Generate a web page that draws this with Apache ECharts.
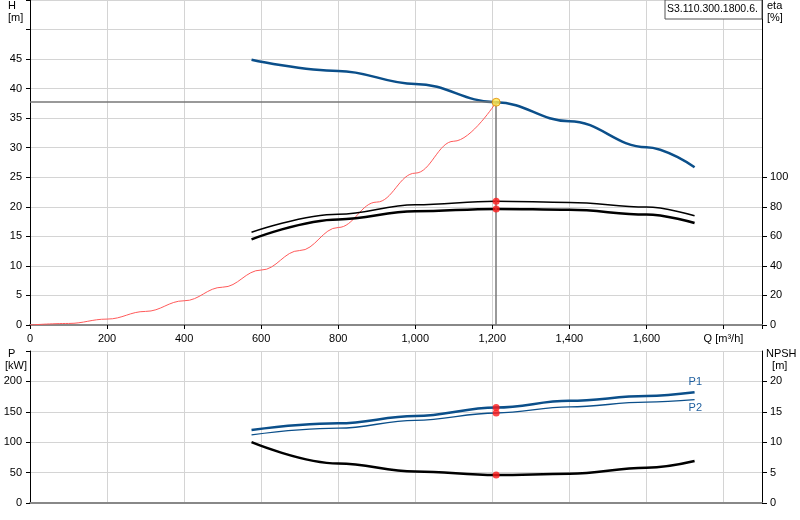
<!DOCTYPE html>
<html><head><meta charset="utf-8">
<script src="https://cdn.jsdelivr.net/npm/echarts@6/dist/echarts.min.js"></script>
<style>html,body{margin:0;padding:0;background:#fff}#c{width:800px;height:520px}</style>
</head><body><div id="c"></div>
<script>
const qHead = [575, 800, 1000, 1210, 1400, 1600, 1725];
const head = [44.9, 43.0, 40.8, 37.7, 34.5, 30.1, 26.7];
const qSys = [0, 100, 200, 300, 400, 500, 600, 700, 800, 900, 1000, 1100, 1210];
const sysHead = [0, 0.26, 1.0, 2.3, 4.1, 6.4, 9.3, 12.6, 16.5, 20.8, 25.7, 31.1, 37.7];
const qEta = [575, 800, 1000, 1210, 1400, 1600, 1725];
const eta1 = [62.8, 75.0, 81.4, 83.8, 83.0, 79.8, 74.0];
const eta2 = [58.0, 71.5, 77.0, 78.6, 78.0, 74.8, 69.0];
const qP = [575, 800, 1000, 1210, 1400, 1600, 1725];
const p1 = [120, 131, 143, 157, 168, 176, 182];
const p2 = [112, 123, 136, 148, 158, 166, 170];
const npsh = [10.0, 6.5, 5.2, 4.6, 4.8, 5.8, 6.9];
const duty = {q: 1210, h: 37.7, eta1: 83.8, eta2: 78.6, p1: 157, p2: 148, npsh: 4.6};
const title = 'S3.110.300.1800.6.';

const zip = (a, b) => a.map((v, i) => [v, b[i]]);
const font = 'Liberation Sans, Arial, sans-serif';
const lbl = {color: '#000', fontSize: 11, fontFamily: font};
const grid = {lineStyle: {color: '#d4d4d4'}};
const sm = {smooth: 0.4, smoothMonotone: 'x'};
const chart = echarts.init(document.getElementById('c'));
chart.setOption({
  animation: false,
  grid: [
    {left: 30, right: 38, top: 0, height: 325},
    {left: 30, right: 38, top: 351, height: 152}
  ],
  xAxis: [
    {gridIndex: 0, type: 'value', min: 0, max: 1900, interval: 200,
     axisLine: {lineStyle: {color: '#888', width: 2}}, axisTick: {show: true, length: 4, lineStyle: {color: '#000'}},
     axisLabel: Object.assign({}, lbl, {formatter: v => v === 1800 ? 'Q [m³/h]' : (v >= 1900 ? '' : v.toLocaleString('en-US'))}),
     splitLine: grid},
    {gridIndex: 1, type: 'value', min: 0, max: 1900, interval: 200,
     axisLine: {lineStyle: {color: '#888', width: 2}}, axisTick: {show: false},
     axisLabel: {show: false}, splitLine: grid}
  ],
  yAxis: [
    {gridIndex: 0, type: 'value', min: 0, max: 55, interval: 5,
     axisLine: {show: true, lineStyle: {color: '#000'}}, axisTick: {show: true, length: 4, lineStyle: {color: '#000'}},
     axisLabel: Object.assign({}, lbl, {formatter: v => v >= 50 ? '' : v}), splitLine: grid},
    {gridIndex: 0, type: 'value', position: 'right', min: 0, max: 220, interval: 20,
     axisLine: {show: true, lineStyle: {color: '#000'}},
     axisTick: {show: true, length: 5, lineStyle: {color: '#000'}, customValues: [0, 20, 40, 60, 80, 100]},
     axisLabel: Object.assign({}, lbl, {customValues: [0, 20, 40, 60, 80, 100]}), splitLine: {show: false}},
    {gridIndex: 1, type: 'value', min: 0, max: 250, interval: 50,
     axisLine: {show: true, lineStyle: {color: '#000'}}, axisTick: {show: true, length: 4, lineStyle: {color: '#000'}},
     axisLabel: Object.assign({}, lbl, {formatter: v => v > 200 ? '' : v}), splitLine: grid},
    {gridIndex: 1, type: 'value', position: 'right', min: 0, max: 25, interval: 5,
     axisLine: {show: true, lineStyle: {color: '#000'}},
     axisTick: {show: true, length: 5, lineStyle: {color: '#000'}, customValues: [0, 5, 10, 15, 20]},
     axisLabel: Object.assign({}, lbl, {customValues: [0, 5, 10, 15, 20]}), splitLine: {show: false}}
  ],
  graphic: [
    {type: 'text', left: 8, top: 0, style: {text: 'H\n[m]', fill: '#000', font: '11px ' + font, align: 'center', lineHeight: 12}},
    {type: 'text', left: 767, top: 0, style: {text: 'eta\n[%]', fill: '#000', font: '11px ' + font, lineHeight: 12}},
    {type: 'text', left: 5, top: 348, style: {text: ' P\n[kW]', fill: '#000', font: '11px ' + font, lineHeight: 12}},
    {type: 'text', left: 766, top: 348, style: {text: 'NPSH\n  [m]', fill: '#000', font: '11px ' + font, lineHeight: 12}},
    {type: 'rect', shape: {x: 665, y: 0, width: 97, height: 19}, style: {fill: '#fff', stroke: '#555', lineWidth: 1}, z: 10},
    {type: 'text', left: 667, top: 4, z: 11, style: {text: title, fill: '#000', font: '10.5px ' + font}}
  ],
  series: [
    Object.assign({type: 'line', xAxisIndex: 0, yAxisIndex: 0, data: zip(qSys, sysHead), symbol: 'none',
     lineStyle: {color: '#ff5a5a', width: 1}, z: 2}, sm),
    Object.assign({type: 'line', xAxisIndex: 0, yAxisIndex: 0, data: zip(qHead, head), symbol: 'none',
     lineStyle: {color: '#0b4f8a', width: 2.5}, z: 3,
     markLine: {silent: true, symbol: 'none', label: {show: false},
       lineStyle: {color: '#777', width: 1.5, type: 'solid'},
       data: [[{coord: [0, duty.h]}, {coord: [duty.q, duty.h]}], [{coord: [duty.q, 0]}, {coord: [duty.q, duty.h]}]]}}, sm),
    Object.assign({type: 'line', xAxisIndex: 0, yAxisIndex: 1, data: zip(qEta, eta1), symbol: 'none',
     lineStyle: {color: '#000', width: 1.5}}, sm),
    Object.assign({type: 'line', xAxisIndex: 0, yAxisIndex: 1, data: zip(qEta, eta2), symbol: 'none',
     lineStyle: {color: '#000', width: 2.5}}, sm),
    {type: 'scatter', xAxisIndex: 0, yAxisIndex: 1, data: [[duty.q, duty.eta1], [duty.q, duty.eta2]],
     symbolSize: 7, itemStyle: {color: '#ff1a1a'}, z: 5},
    {type: 'scatter', xAxisIndex: 0, yAxisIndex: 0, data: [[duty.q, duty.h]],
     symbolSize: 8, itemStyle: {color: '#ffe94d', borderColor: '#e08a00', borderWidth: 1}, z: 6},
    Object.assign({type: 'line', xAxisIndex: 1, yAxisIndex: 2, data: zip(qP, p1), symbol: 'none',
     lineStyle: {color: '#0b4f8a', width: 2.5},
     endLabel: {show: true, formatter: 'P1', color: '#1f5f9f', fontSize: 11, fontFamily: font, offset: [-14, -10]}}, sm),
    Object.assign({type: 'line', xAxisIndex: 1, yAxisIndex: 2, data: zip(qP, p2), symbol: 'none',
     lineStyle: {color: '#0b4f8a', width: 1.3},
     endLabel: {show: true, formatter: 'P2', color: '#1f5f9f', fontSize: 11, fontFamily: font, offset: [-14, 8]}}, sm),
    Object.assign({type: 'line', xAxisIndex: 1, yAxisIndex: 3, data: zip(qP, npsh), symbol: 'none',
     lineStyle: {color: '#000', width: 2.5}}, sm),
    {type: 'scatter', xAxisIndex: 1, yAxisIndex: 2, data: [[duty.q, duty.p1], [duty.q, duty.p2]],
     symbolSize: 7, itemStyle: {color: '#ff1a1a'}, z: 5},
    {type: 'scatter', xAxisIndex: 1, yAxisIndex: 3, data: [[duty.q, duty.npsh]],
     symbolSize: 7, itemStyle: {color: '#ff1a1a'}, z: 5}
  ]
});
</script></body></html>
